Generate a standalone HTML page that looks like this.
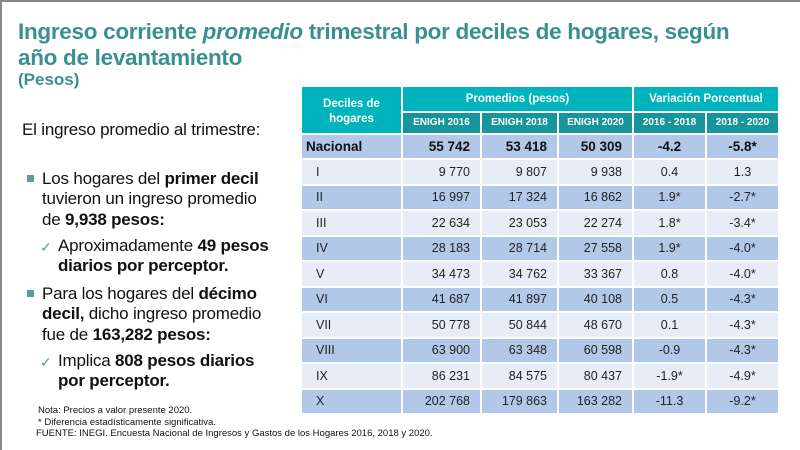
<!DOCTYPE html>
<html><head><meta charset="utf-8"><style>
*{margin:0;padding:0;box-sizing:border-box}
body{width:800px;height:450px;background:#fff;position:relative;overflow:hidden;font-family:"Liberation Sans",sans-serif}
.bl{position:absolute;left:0;top:0;width:2px;height:450px;background:#888}
.bt{position:absolute;left:0;top:0;width:800px;height:2px;background:#888}
.t{position:absolute;left:18px;color:#3a8f90;font-weight:bold;font-size:22.5px;line-height:24px;letter-spacing:-0.3px}
.p{position:absolute;left:18px;top:70px;color:#3a8f90;font-weight:bold;font-size:17px}
.l{position:absolute;color:#111;font-size:17px;line-height:20.3px;letter-spacing:-0.2px}
.sq{position:absolute;width:7px;height:7px;background:#5c9aa0}
.ck{position:absolute;color:#5c9aa0;font-size:14px}
.n{position:absolute;left:38px;font-size:9.5px;color:#111;line-height:11.5px}
table{position:absolute;left:300px;top:85px;border-collapse:collapse;font-size:12.5px;color:#222}
td{border:2px solid #fff;padding:0;height:25.5px}
.h1{background:#00b4be;font-weight:bold;text-align:center;font-size:11.5px;color:#fff}
.h2{background:#17959d;color:#fff;font-weight:bold;text-align:center;font-size:10px;height:22px}
.b td{background:#b2c8e8}.w td{background:#e7edf6}
td.r{text-align:right;padding-right:10px}td.c{text-align:center}td.f{padding-left:14px}
.nat td{font-weight:bold;font-size:13.5px;color:#111}.nat td.f{padding-left:4px}
</style></head><body>
<div class="bl"></div><div class="bt"></div>
<div class="t" style="top:20px">Ingreso corriente <i>promedio</i> trimestral por deciles de hogares, según</div>
<div class="t" style="top:46px">año de levantamiento</div>
<div class="p">(Pesos)</div>
<div class="l" style="left:22px;top:120px">El ingreso promedio al trimestre:</div>
<div class="sq" style="left:27px;top:175px"></div>
<div class="l" style="left:42px;top:169px">Los hogares del <b>primer decil</b><br>tuvieron un ingreso promedio<br>de <b>9,938 pesos:</b></div>
<div class="ck" style="left:40px;top:239px">✓</div>
<div class="l" style="left:58px;top:236px">Aproximadamente <b>49 pesos<br>diarios por perceptor.</b></div>
<div class="sq" style="left:27px;top:290px"></div>
<div class="l" style="left:42px;top:284px">Para los hogares del <b>décimo<br>decil,</b> dicho ingreso promedio<br>fue de <b>163,282 pesos:</b></div>
<div class="ck" style="left:40px;top:354px">✓</div>
<div class="l" style="left:58px;top:351px">Implica <b>808 pesos diarios<br>por perceptor.</b></div>
<div class="n" style="top:405px">Nota: Precios a valor presente 2020.<br>* Diferencia estadísticamente significativa.<br><span style="position:relative;left:-2px">FUENTE: INEGI. Encuesta Nacional de Ingresos y Gastos de los Hogares 2016, 2018 y 2020.</span></div>
<table>
<colgroup><col style="width:101px"><col style="width:79px"><col style="width:77px"><col style="width:75px"><col style="width:73px"><col style="width:73px"></colgroup>
<tr><td class="h1" rowspan="2" style="vertical-align:top;padding-top:10px;line-height:15px">Deciles de<br>hogares</td><td class="h1" colspan="3" style="height:25px">Promedios (pesos)</td><td class="h1" colspan="2">Variación Porcentual</td></tr>
<tr><td class="h2">ENIGH 2016</td><td class="h2">ENIGH 2018</td><td class="h2">ENIGH 2020</td><td class="h2">2016 - 2018</td><td class="h2">2018 - 2020</td></tr>
<tr class="b nat"><td class="f">Nacional</td><td class="r">55 742</td><td class="r">53 418</td><td class="r">50 309</td><td class="c">-4.2</td><td class="c">-5.8*</td></tr>
<tr class="w"><td class="f">I</td><td class="r">9 770</td><td class="r">9 807</td><td class="r">9 938</td><td class="c">0.4</td><td class="c">1.3</td></tr>
<tr class="b"><td class="f">II</td><td class="r">16 997</td><td class="r">17 324</td><td class="r">16 862</td><td class="c">1.9*</td><td class="c">-2.7*</td></tr>
<tr class="w"><td class="f">III</td><td class="r">22 634</td><td class="r">23 053</td><td class="r">22 274</td><td class="c">1.8*</td><td class="c">-3.4*</td></tr>
<tr class="b"><td class="f">IV</td><td class="r">28 183</td><td class="r">28 714</td><td class="r">27 558</td><td class="c">1.9*</td><td class="c">-4.0*</td></tr>
<tr class="w"><td class="f">V</td><td class="r">34 473</td><td class="r">34 762</td><td class="r">33 367</td><td class="c">0.8</td><td class="c">-4.0*</td></tr>
<tr class="b"><td class="f">VI</td><td class="r">41 687</td><td class="r">41 897</td><td class="r">40 108</td><td class="c">0.5</td><td class="c">-4.3*</td></tr>
<tr class="w"><td class="f">VII</td><td class="r">50 778</td><td class="r">50 844</td><td class="r">48 670</td><td class="c">0.1</td><td class="c">-4.3*</td></tr>
<tr class="b"><td class="f">VIII</td><td class="r">63 900</td><td class="r">63 348</td><td class="r">60 598</td><td class="c">-0.9</td><td class="c">-4.3*</td></tr>
<tr class="w"><td class="f">IX</td><td class="r">86 231</td><td class="r">84 575</td><td class="r">80 437</td><td class="c">-1.9*</td><td class="c">-4.9*</td></tr>
<tr class="b"><td class="f">X</td><td class="r">202 768</td><td class="r">179 863</td><td class="r">163 282</td><td class="c">-11.3</td><td class="c">-9.2*</td></tr>
</table>
</body></html>
